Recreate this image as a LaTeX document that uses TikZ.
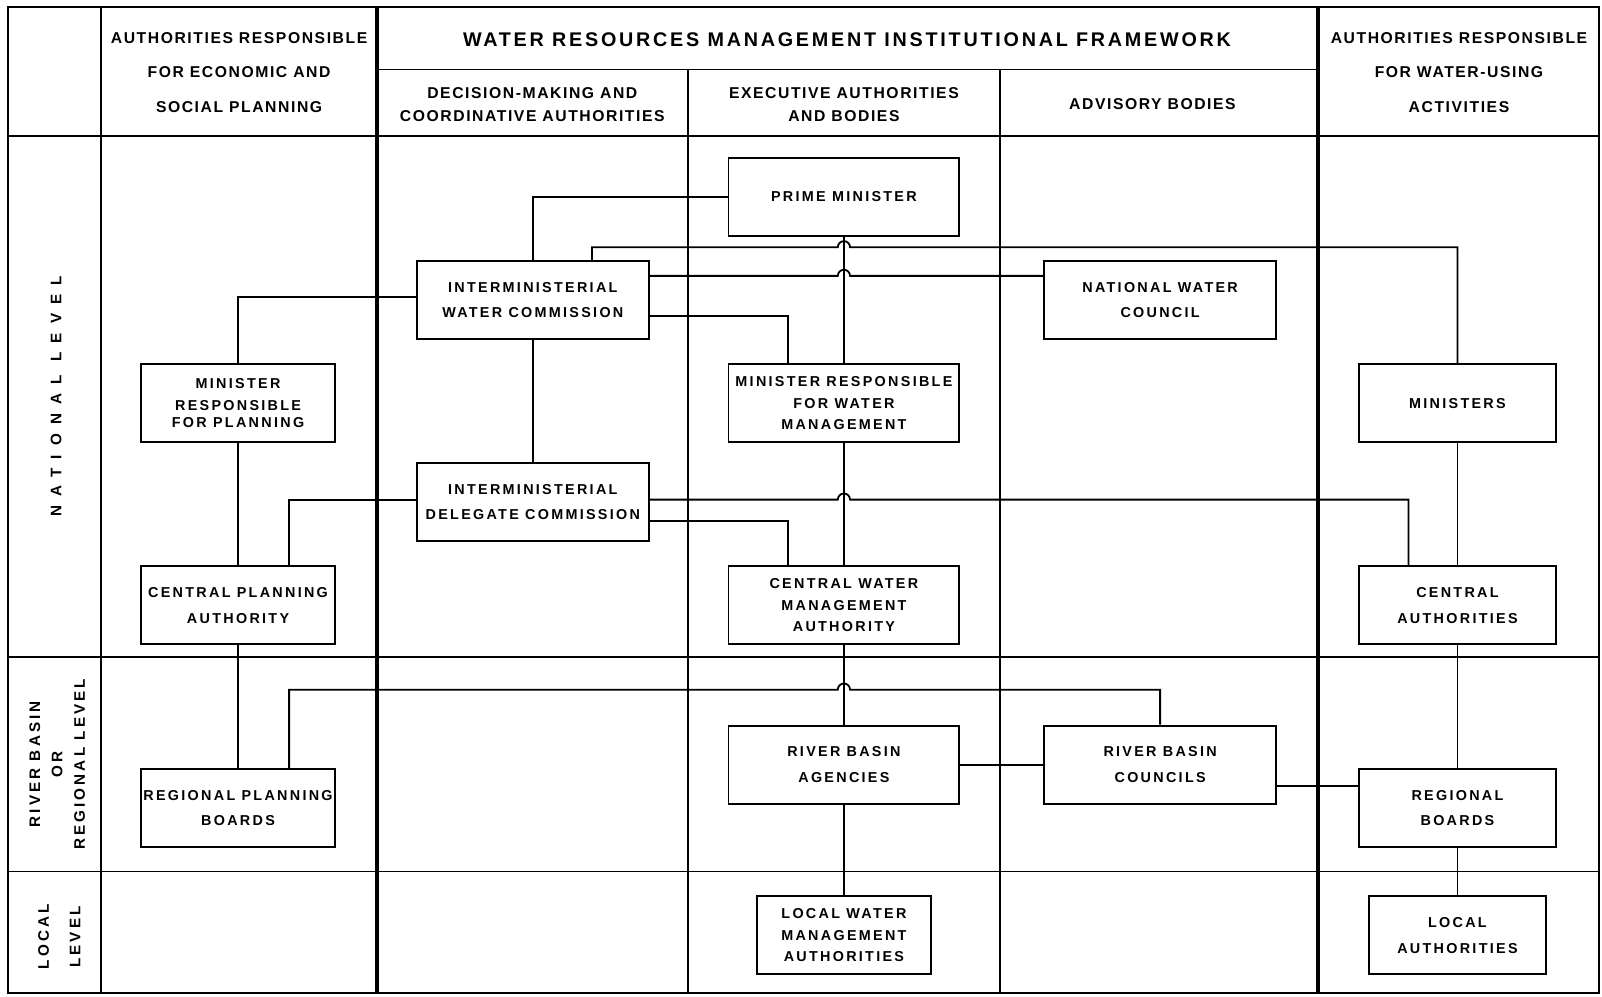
\documentclass[tikz,border=0pt]{standalone}
\usepackage{fontspec}
\setmainfont{Liberation Sans}
\newfontfamily\boxfont[LetterSpace=16]{Liberation Sans Bold}
\newfontfamily\headfont[LetterSpace=10]{Liberation Sans Bold}
\newfontfamily\titlefont[LetterSpace=14]{Liberation Sans Bold}
\newfontfamily\levelfont[LetterSpace=20]{Liberation Sans Bold}
\newfontfamily\widefont[LetterSpace=60]{Liberation Sans Bold}
\usetikzlibrary{calc}

\begin{document}
\begin{tikzpicture}[x=.02cm,y=-.02cm,
  box/.style={draw,line width=1.1pt,minimum height=1.53cm,inner xsep=.5pt,align=center,
    font=\boxfont\fontsize{8}{9.6}\selectfont},
  head/.style={align=center,font=\headfont\fontsize{8.75}{13}\selectfont},
  level/.style={align=center,rotate=90,font=\levelfont\fontsize{8.5}{12.5}\selectfont},
  gridline/.style={line width=1pt},
  thickrule/.style={line width=1.9pt},
  link/.style={line width=1pt}]
\useasboundingbox (0,0) rectangle (1568,975);
% table
\draw[line width=1.3pt] (8,7) rectangle (1565,972);
\draw[gridline] (99,7)--(99,972);
\draw[thickrule] (369,7)--(369,972);
\draw[thickrule] (1290,7)--(1290,972);
\draw[gridline] (673,68)--(673,972);
\draw[gridline] (979,68)--(979,972);
\draw[gridline] (369,68)--(1290,68);
\foreach \y in {133,643,853} {\draw[gridline] (8,\y)--(1565,\y);}
% headings
\node[head,font=\headfont\fontsize{8.75}{19.3}\selectfont] (hplan) at (234,71)
  {AUTHORITIES RESPONSIBLE\\FOR ECONOMIC AND\\SOCIAL PLANNING};
\node[font=\titlefont\fontsize{11}{13}\selectfont] (htitle) at (829,39)
  {WATER RESOURCES MANAGEMENT INSTITUTIONAL FRAMEWORK};
\node[head] (hdec) at (521,102.5) {DECISION-MAKING AND\\COORDINATIVE AUTHORITIES};
\node[head] (hexe) at (826,102.5) {EXECUTIVE AUTHORITIES\\AND BODIES};
\node[head] (hadv) at (1128,102) {ADVISORY BODIES};
\node[head,font=\headfont\fontsize{8.75}{19.3}\selectfont] (huse) at (1428,71)
  {AUTHORITIES RESPONSIBLE\\FOR WATER-USING\\ACTIVITIES};
\node[level,font=\widefont\fontsize{8.5}{10}\selectfont] (lnat) at (55,388) {NATIONAL LEVEL};
\node[level] (lreg) at (56,748) {RIVER BASIN\\OR\\REGIONAL LEVEL};
\node[level,font=\levelfont\fontsize{8.5}{17.6}\selectfont] (lloc) at (58,917) {LOCAL\\LEVEL};
% bodies
\node[box,minimum width=4.52cm] (pm) at (826,192.5) {PRIME MINISTER};
\node[box,minimum width=4.54cm] (iwc) at (521.5,293.5) {INTERMINISTERIAL\\[4.6pt]WATER COMMISSION};
\node[box,minimum width=4.54cm] (nwc) at (1135.5,293.5) {NATIONAL WATER\\[4.6pt]COUNCIL};
\node[box,minimum width=3.8cm] (mrp) at (233,394.5) {MINISTER\\[2.4pt]RESPONSIBLE\\FOR PLANNING};
\node[box,minimum width=4.52cm] (mrwm) at (826,394.5) {MINISTER RESPONSIBLE\\[2.4pt]FOR WATER\\[2.4pt]MANAGEMENT};
\node[box,minimum width=3.86cm] (min) at (1426.5,394.5) {MINISTERS};
\node[box,minimum width=4.54cm] (idc) at (521.5,491.5) {INTERMINISTERIAL\\[4.6pt]DELEGATE COMMISSION};
\node[box,minimum width=3.8cm] (cpa) at (233,592.5) {CENTRAL PLANNING\\[4.6pt]AUTHORITY};
\node[box,minimum width=4.52cm] (cwma) at (826,592.5) {CENTRAL WATER\\[2.4pt]MANAGEMENT\\[2.4pt]AUTHORITY};
\node[box,minimum width=3.86cm] (ca) at (1426.5,592.5) {CENTRAL\\[4.6pt]AUTHORITIES};
\node[box,minimum width=4.52cm] (rba) at (826,748.5) {RIVER BASIN\\[4.6pt]AGENCIES};
\node[box,minimum width=4.54cm] (rbc) at (1135.5,748.5) {RIVER BASIN\\[4.6pt]COUNCILS};
\node[box,minimum width=3.8cm] (rpb) at (233,791) {REGIONAL PLANNING\\[4.6pt]BOARDS};
\node[box,minimum width=3.86cm] (rb) at (1426.5,791) {REGIONAL\\[4.6pt]BOARDS};
\node[box,minimum width=3.4cm] (lwma) at (826,915.5) {LOCAL WATER\\[2.4pt]MANAGEMENT\\[2.4pt]AUTHORITIES};
\node[box,minimum width=3.48cm] (la) at (1426.5,915.5) {LOCAL\\[4.6pt]AUTHORITIES};
% links
\draw[link] (iwc.north) |- (pm.west);
\draw[link] ($(iwc.north)+(58,0)$) |- (820,242) arc[start angle=180,end angle=0,radius=.12cm] -| (min.north);
\draw[link] (iwc.east |- 0,270) -- (820,270) arc[start angle=180,end angle=0,radius=.12cm] -- (nwc.west |- 0,270);
\draw[link] (iwc.east |- 0,309) -| ($(mrwm.north)+(-55,0)$);
\draw[link] (iwc.west |- 0,291) -| (mrp.north);
\draw[link] (pm) -- (mrwm);
\draw[link] (iwc) -- (idc);
\draw[link] (mrp) -- (cpa);
\draw[link] (cpa) -- (rpb);
\draw[link] (idc.west |- 0,489) -| ($(cpa.north)+(50,0)$);
\draw[link] (idc.east |- 0,489) -- (820,489) arc[start angle=180,end angle=0,radius=.12cm] -| ($(ca.north)+(-48,0)$);
\draw[link] (idc.east |- 0,510) -| ($(cwma.north)+(-55,0)$);
\draw[link] (mrwm) -- (cwma);
\draw[link] (cwma) -- (rba);
\draw[link] ($(rpb.north)+(50,0)$) |- (820,675) arc[start angle=180,end angle=0,radius=.12cm] -| (rbc.north);
\draw[link] (rba) -- (rbc);
\draw[link] (rbc.east |- 0,769) -- (rb.west |- 0,769);
\draw[link] (min) -- (ca);
\draw[link] (ca) -- (rb);
\draw[link] (rb) -- (la);
\draw[link] (rba) -- (lwma);
\end{tikzpicture}
\end{document}
